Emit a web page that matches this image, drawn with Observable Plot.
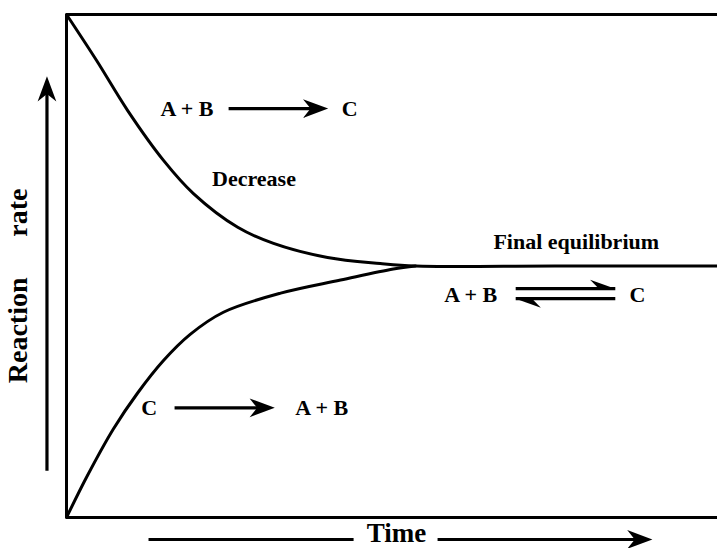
<!DOCTYPE html>
<html>
<head>
<meta charset="utf-8">
<script src="https://cdn.jsdelivr.net/npm/d3@7"></script>
<script src="https://cdn.jsdelivr.net/npm/@observablehq/plot@0.6"></script>
<style>
  html, body { margin: 0; padding: 0; background: white; }
</style>
</head>
<body>
<div id="chart"></div>
<script>
// Forward reaction rate (A + B -> C), decreasing to equilibrium
const timeForward = [0, 4.6, 9.4, 14.9, 19.5, 26.3, 31.8, 40.1, 48.2, 53.6, 75, 100];
const rateForward = [100, 90.9, 80.9, 71.0, 64.4, 57.7, 54.5, 51.7, 50.5, 50, 50, 50];
// Reverse reaction rate (C -> A + B), increasing to equilibrium
const timeReverse = [0, 3.2, 7.2, 10.9, 14.9, 19.0, 24.1, 32.9, 42.1, 50.2, 53.6];
const rateReverse = [0, 8.3, 17.6, 24.7, 31.2, 36.4, 40.8, 44.6, 47.2, 49.4, 50];

// Annotation labels
const labelText = ["A + B", "C", "Decrease", "Final equilibrium", "A + B", "C", "C", "A + B"];
const labelX = [18.5, 43.5, 28.8, 78.3, 62.1, 87.7, 12.7, 39.2];
const labelY = [81.3, 81.3, 67.3, 54.7, 44.2, 44.2, 21.8, 21.8];

// Axis titles
const axisText = ["Reaction", "rate", "Time"];
const axisX = [-7.4, -7.4, 50.7];
const axisY = [37.2, 60.6, -3.2];
const axisRotate = [-90, -90, 0];
const axisSize = [28, 28, 27];

// Arrow shafts
const shaftX1 = [24.9, 16.6, 12.6, 57.0, 69.0, 69.0, -3.0];
const shaftY1 = [81.3, 21.8, -4.37, -4.37, 45.5, 43.5, 9.3];
const shaftX2 = [39.0, 30.8, 44.1, 88.5, 84.3, 84.3, -3.0];
const shaftY2 = [81.3, 21.8, -4.37, -4.37, 45.5, 43.5, 85.5];
// Full arrow heads (tip positions)
const headX = [40.2, 32.0, 90.0, -3.0];
const headY = [81.3, 21.8, -4.37, 87.7];
const headAngle = [90, 90, 90, 0];
// Half arrow heads of the equilibrium double arrow
const halfX = [84.3, 69.0];
const halfY = [45.5, 43.5];
const halfAngle = [90, -90];

const curveData = [
  ...timeForward.map((t, i) => ({time: t, rate: rateForward[i], series: "forward"})),
  ...timeReverse.map((t, i) => ({time: t, rate: rateReverse[i], series: "reverse"}))
];
const labels = labelText.map((t, i) => ({text: t, x: labelX[i], y: labelY[i]}));
const axisLabels = axisText.map((t, i) => ({text: t, x: axisX[i], y: axisY[i], rotate: axisRotate[i], size: axisSize[i]}));
const shafts = shaftX1.map((x, i) => ({x1: x, y1: shaftY1[i], x2: shaftX2[i], y2: shaftY2[i]}));
const heads = headX.map((x, i) => ({x, y: headY[i], angle: headAngle[i]}));
const halves = halfX.map((x, i) => ({x, y: halfY[i], angle: halfAngle[i]}));

const arrowHead = {
  draw(ctx, size) {
    const r = Math.sqrt(size / Math.PI);
    const L = 1.4 * r, W = 0.52 * r;
    ctx.moveTo(0, 0);
    ctx.lineTo(W, L);
    ctx.lineTo(0, 0.7 * L);
    ctx.lineTo(-W, L);
    ctx.closePath();
  }
};
const halfHead = {
  draw(ctx, size) {
    const r = Math.sqrt(size / Math.PI);
    const L = 1.4 * r;
    ctx.moveTo(0, 0);
    ctx.lineTo(-0.5 * r, L);
    ctx.lineTo(0, 0.65 * L);
    ctx.closePath();
  }
};

const font = "'Liberation Serif', 'Times New Roman', Times, serif";

const chart = Plot.plot({
  width: 717,
  height: 548,
  marginLeft: 66,
  marginRight: 0,
  marginTop: 14,
  marginBottom: 31,
  style: {background: "white", overflow: "visible"},
  x: {domain: [0, 100], axis: null},
  y: {domain: [0, 100], axis: null},
  marks: [
    Plot.ruleY([0, 100], {stroke: "black", strokeWidth: 3}),
    Plot.ruleX([0], {stroke: "black", strokeWidth: 3}),
    Plot.line(curveData, {x: "time", y: "rate", z: "series", curve: "catmull-rom", stroke: "black", strokeWidth: 3}),
    Plot.link(shafts, {x1: "x1", y1: "y1", x2: "x2", y2: "y2", stroke: "black", strokeWidth: 3.2}),
    Plot.dot(heads, {x: "x", y: "y", rotate: "angle", symbol: arrowHead, r: 18, fill: "black", stroke: "none"}),
    Plot.dot(halves, {x: "x", y: "y", rotate: "angle", symbol: halfHead, r: 18, fill: "black", stroke: "none"}),
    Plot.text(labels, {x: "x", y: "y", text: "text", fontFamily: font, fontWeight: "bold", fontSize: 22, fill: "black"}),
    Plot.text(axisLabels, {x: "x", y: "y", text: "text", rotate: "rotate", fontSize: "size", fontFamily: font, fontWeight: "bold", fill: "black"})
  ]
});
document.getElementById("chart").appendChild(chart);
</script>
</body>
</html>
